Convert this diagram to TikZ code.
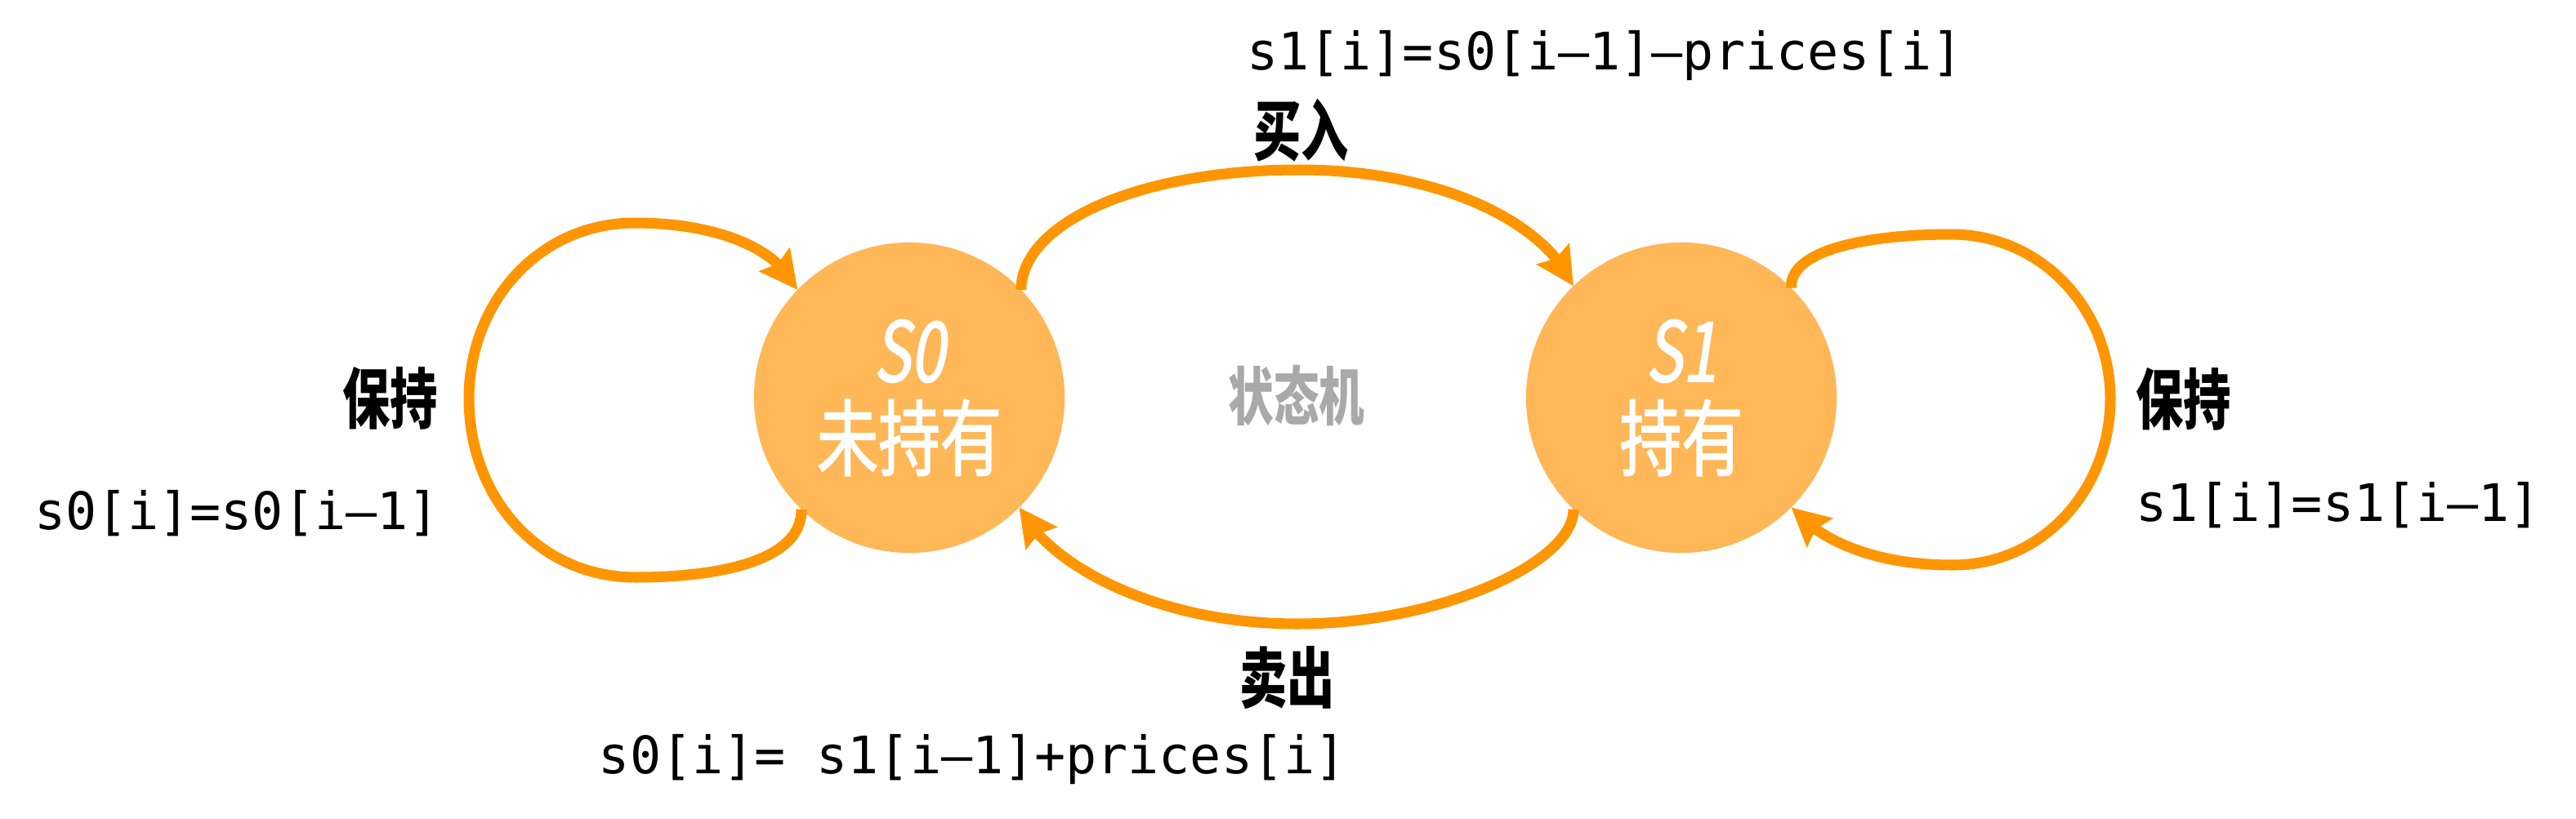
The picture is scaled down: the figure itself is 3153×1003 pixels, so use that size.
\documentclass[tikz,border=0pt]{standalone}
\usepackage{fontspec}
\usetikzlibrary{arrows.meta,bending}
\setmonofont{DejaVu Sans Mono}
\newfontfamily\cjkfont{Noto Sans CJK SC}[FakeStretch=0.72]
\newfontfamily\statefont{Noto Sans CJK SC}[FakeStretch=0.74,FakeBold=1.6]
\newfontfamily\stateslant{Noto Sans CJK SC}[FakeStretch=0.74,FakeSlant=0.15,FakeBold=1.6]
\definecolor{statefill}{HTML}{FFB757}
\definecolor{edgeline}{HTML}{FF9500}
\definecolor{machinegray}{HTML}{A9A9A9}

\begin{document}
\begin{tikzpicture}[x=0.01cm, y=-0.01cm,
    state/.style={circle, fill=statefill, minimum size=3.8cm, inner sep=0pt,
      outer sep=0pt, text=white, align=center,
      font=\statefont\fontsize{29}{30.5}\selectfont},
    edge/.style={draw=edgeline, line width=0.13cm,
      -{Stealth[length=0.46cm, width=0.46cm, inset=0.06cm]}},
    action/.style={font=\cjkfont\bfseries\fontsize{23}{24}\selectfont},
    formula/.style={font=\ttfamily\fontsize{18}{20}\selectfont}]
  \useasboundingbox (0, 0) rectangle (3153, 1003);
  % The two states of the machine
  \node[state] (s0) at (1113, 487) {{\stateslant S0}\\未持有};
  \node[state] (s1) at (2058, 487) {{\stateslant S1}\\持有};
  \node[font=\cjkfont\bfseries\fontsize{22}{22}\selectfont, text=machinegray]
    (machine) at (1587, 485) {状态机};
  % Turning points of the curved transitions
  \coordinate (buytop) at (1590, 208);
  \coordinate (selltop) at (1588, 764);
  \coordinate (keep0left) at (574, 488);
  \coordinate (keep1right) at (2583, 488);
  % Buy and sell
  \draw[edge] (s0.44) .. controls (1251, 270) and (1400, 208) .. (buytop)
    .. controls (1760, 208) and (1890, 270) .. (s1.134);
  \draw[edge] (s1.226) .. controls (1926, 690) and (1760, 764) .. (selltop)
    .. controls (1420, 764) and (1285, 695) .. (s0.-45);
  % Keep the same state
  \draw[edge] (s0.226) .. controls (982, 690) and (870, 707) .. (778, 707)
    .. controls (660, 707) and (574, 610) .. (keep0left)
    .. controls (574, 370) and (660, 273) .. (777, 273)
    .. controls (870, 273) and (950, 300) .. (s0.136);
  \draw[edge] (s1.45) .. controls (2190, 305) and (2290, 287) .. (2388, 287)
    .. controls (2500, 287) and (2583, 380) .. (keep1right)
    .. controls (2583, 600) and (2500, 692) .. (2390, 692)
    .. controls (2300, 692) and (2230, 665) .. (s1.-45);
  % Labels of the transitions
  \node[formula, anchor=base west] (buyeq) at (1514, 85) {s1[i]=s0[i–1]–prices[i]};
  \node[action, anchor=west] (buy) at (1522, 160) {买入};
  \node[action, anchor=east] (sell) at (1646, 830) {卖出};
  \node[formula, anchor=base east] (selleq) at (1660, 947) {s0[i]= s1[i–1]+prices[i]};
  \node[action, anchor=east] (keep0) at (548, 488) {保持};
  \node[formula, anchor=base east] (keep0eq) at (550, 648) {s0[i]=s0[i–1]};
  \node[action, anchor=west] (keep1) at (2602, 489) {保持};
  \node[formula, anchor=base west] (keep1eq) at (2602, 638) {s1[i]=s1[i–1]};
\end{tikzpicture}
\end{document}
